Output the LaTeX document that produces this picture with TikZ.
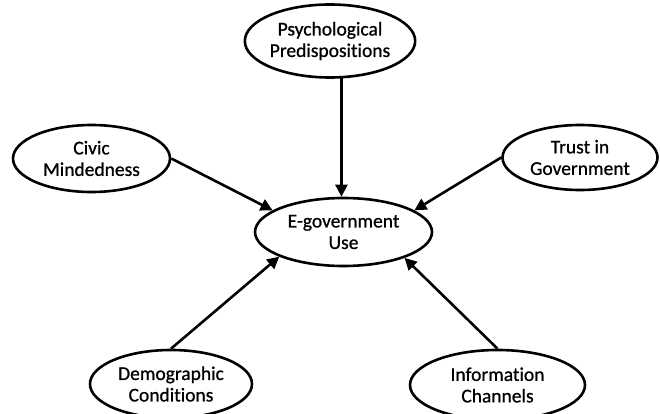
\documentclass[tikz,border=0pt]{standalone}
\usepackage{fontspec}
\setmainfont{Carlito}[Ligatures=NoCommon,FakeBold=0.8]
\usetikzlibrary{shapes.geometric,arrows.meta}
\begin{document}
\begin{tikzpicture}[x=1pt,y=-1pt,
  factor/.style={ellipse,draw,line width=2.6pt,inner sep=0pt,align=center,
    font=\fontsize{19.5}{21.5}\selectfont},
  link/.style={line width=2.6pt,-{Triangle[length=12pt,width=12pt]}}]
  \useasboundingbox (0,0) rectangle (660,414);
  % outcome in the middle
  \node[factor,minimum width=177pt,minimum height=68pt] (eg) at (343.5,232) {E-government\\Use};
  % surrounding factors
  \node[factor,minimum width=155pt,minimum height=73pt] (ps) at (330,41) {Psychological\\Predispositions};
  \node[factor,minimum width=157pt,minimum height=67pt] (cv) at (91.5,158.5) {Civic\\Mindedness};
  \node[factor,minimum width=155pt,minimum height=65pt] (tr) at (580,157.5) {Trust in\\Government};
  \node[factor,minimum width=162pt,minimum height=68pt] (dm) at (171,384) {Demographic\\Conditions};
  \node[factor,minimum width=175pt,minimum height=70pt] (ic) at (497.5,385) {Information\\Channels};
  % influences pointing at the outcome
  \draw[link] (ps.-73) -- (ps.-73 |- eg.north);
  \draw[link] (cv.east) -- (eg.163);
  \draw[link] (tr.west) -- (eg.17);
  \draw[link] (dm.north) -- (eg.201);
  \draw[link] (ic.north) -- (eg.337);
\end{tikzpicture}
\end{document}
